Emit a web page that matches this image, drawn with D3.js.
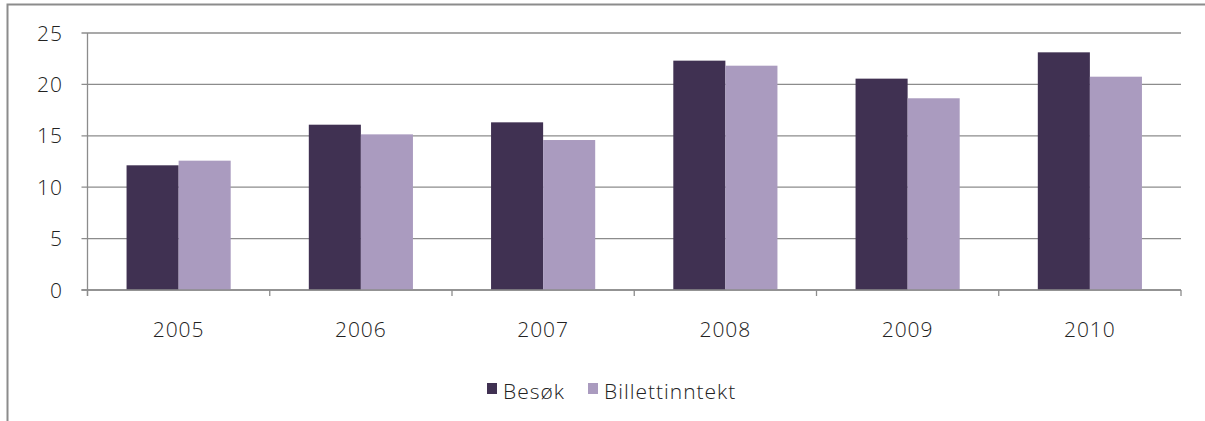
<!DOCTYPE html>
<html>
<head>
<meta charset="utf-8">
<script src="https://cdn.jsdelivr.net/npm/d3@7"></script>
<style>
  body { margin: 0; background: #fff; }
  text { font-family: "Open Sans", "Noto Sans", sans-serif; font-weight: 300; fill: #222; letter-spacing: 1px; }
</style>
</head>
<body>
<div id="chart-area"></div>
<script>
var years = ["2005", "2006", "2007", "2008", "2009", "2010"];
var seriesNames = ["Besøk", "Billettinntekt"];
var besok = [12.13, 16.08, 16.31, 22.31, 20.56, 23.12];
var billettinntekt = [12.58, 15.14, 14.59, 21.82, 18.65, 20.75];
var yTicks = [0, 5, 10, 15, 20, 25];
var colors = ["#403152", "#aa9bbf"];

var width = 1205, height = 421;
var plot = { left: 87.5, right: 1181, top: 33, bottom: 290 };
var fontSize = 21;

var svg = d3.select("#chart-area")
    .append("svg")
    .attr("width", width)
    .attr("height", height);

// outer chart frame (only top and left edges are visible)
svg.append("path")
    .attr("d", "M7.5," + height + "V4.5H" + width)
    .attr("fill", "none")
    .attr("stroke", "#8c8c8c")
    .attr("stroke-width", 2);

var x = d3.scaleBand()
    .domain(years)
    .range([plot.left, plot.right])
    .paddingInner(0)
    .paddingOuter(0);

var inner = d3.scaleBand()
    .domain(seriesNames)
    .range([0, x.bandwidth()])
    .paddingOuter(0.75)
    .paddingInner(0);

var y = d3.scaleLinear()
    .domain([0, 25])
    .range([plot.bottom, plot.top]);

// gridlines + y ticks
var grid = svg.append("g");
grid.selectAll("line")
    .data(yTicks)
    .enter().append("line")
    .attr("x1", plot.left - 6)
    .attr("x2", plot.right)
    .attr("y1", function (d) { return y(d); })
    .attr("y2", function (d) { return y(d); })
    .attr("stroke", "#8c8c8c")
    .attr("stroke-width", 1.3);

grid.selectAll("text")
    .data(yTicks)
    .enter().append("text")
    .attr("x", 63)
    .attr("y", function (d) { return y(d) + 7.5; })
    .attr("text-anchor", "end")
    .attr("font-size", fontSize)
    .text(function (d) { return d; });

// bars
var rows = years.map(function (yr, i) {
    return { year: yr, values: [besok[i], billettinntekt[i]] };
});

var groups = svg.append("g").selectAll("g")
    .data(rows)
    .enter().append("g")
    .attr("transform", function (d) { return "translate(" + x(d.year) + ",0)"; });

groups.selectAll("rect")
    .data(function (d) {
        return d.values.map(function (v, j) { return { name: seriesNames[j], value: v, idx: j }; });
    })
    .enter().append("rect")
    .attr("x", function (d) { return inner(d.name); })
    .attr("width", inner.bandwidth())
    .attr("y", function (d) { return y(d.value); })
    .attr("height", function (d) { return y(0) - y(d.value); })
    .attr("fill", function (d) { return colors[d.idx]; });

// axes lines
svg.append("line")
    .attr("x1", plot.left).attr("x2", plot.left)
    .attr("y1", plot.top).attr("y2", plot.bottom + 6)
    .attr("stroke", "#8c8c8c").attr("stroke-width", 1.3);

svg.append("line")
    .attr("x1", plot.left - 6).attr("x2", plot.right)
    .attr("y1", plot.bottom).attr("y2", plot.bottom)
    .attr("stroke", "#8c8c8c").attr("stroke-width", 1.3);

var boundaries = years.map(function (yr) { return x(yr); }).concat([plot.right]);
svg.append("g").selectAll("line")
    .data(boundaries)
    .enter().append("line")
    .attr("x1", function (d) { return d; })
    .attr("x2", function (d) { return d; })
    .attr("y1", plot.bottom)
    .attr("y2", plot.bottom + 6)
    .attr("stroke", "#8c8c8c").attr("stroke-width", 1.3);

svg.append("g").selectAll("text")
    .data(years)
    .enter().append("text")
    .attr("x", function (d) { return x(d) + x.bandwidth() / 2; })
    .attr("y", 337)
    .attr("text-anchor", "middle")
    .attr("font-size", fontSize)
    .text(function (d) { return d; });

// legend
var legendPos = [487, 588];
var legend = svg.append("g").selectAll("g")
    .data(seriesNames)
    .enter().append("g")
    .attr("transform", function (d, i) { return "translate(" + legendPos[i] + ",383)"; });

legend.append("rect")
    .attr("width", 10)
    .attr("height", 11)
    .attr("fill", function (d, i) { return colors[i]; });

legend.append("text")
    .attr("x", 16)
    .attr("y", 16)
    .attr("font-size", fontSize)
    .text(function (d) { return d; });
</script>
</body>
</html>
